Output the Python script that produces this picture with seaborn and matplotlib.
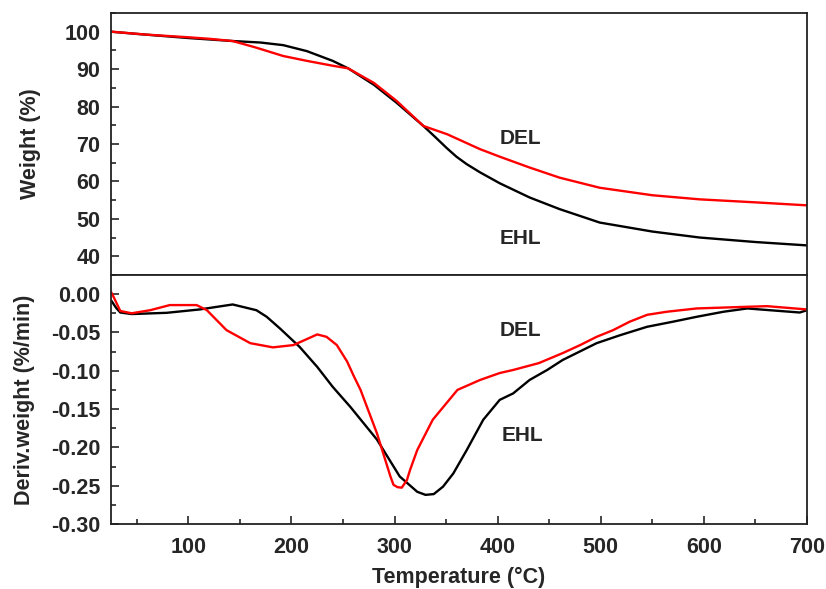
import matplotlib
matplotlib.use("Agg")
import matplotlib.pyplot as plt
import seaborn as sns
import pandas as pd
from matplotlib.ticker import AutoMinorLocator

# ---- data ----
ehl_w_T = [25, 50, 100, 143, 170, 192, 215, 240, 255, 280, 302, 328, 340, 351, 360, 370, 383, 402, 431, 460, 499, 550, 596, 650, 700]
ehl_w = [100, 99.4, 98.3, 97.5, 97.1, 96.4, 94.8, 92.2, 90.2, 85.8, 81.0, 74.8, 71.7, 68.8, 66.6, 64.6, 62.4, 59.5, 55.7, 52.6, 49.0, 46.6, 45.0, 43.8, 42.9]

del_w_T = [25, 60, 100, 120, 143, 165, 192, 215, 240, 255, 280, 302, 328, 351, 383, 402, 431, 460, 499, 550, 596, 650, 700]
del_w = [100, 99.2, 98.5, 98.1, 97.5, 95.8, 93.5, 92.2, 90.9, 90.2, 86.3, 81.5, 74.8, 72.6, 68.6, 66.6, 63.7, 61.0, 58.3, 56.3, 55.2, 54.4, 53.6]

ehl_d_T = [25, 30, 34, 45, 79, 111, 143, 166, 176, 189, 208, 225, 240, 257, 283, 305, 322, 330, 338, 347, 357, 370, 386, 402, 415, 431, 448, 463, 496, 519, 545, 570, 593, 619, 642, 664, 693, 700]
ehl_d = [-0.008, -0.018, -0.024, -0.026, -0.0244, -0.020, -0.0135, -0.021, -0.0296, -0.045, -0.069, -0.095, -0.121, -0.147, -0.190, -0.238, -0.258, -0.262, -0.261, -0.2513, -0.234, -0.2035, -0.164, -0.138, -0.1296, -0.112, -0.099, -0.086, -0.064, -0.0535, -0.0426, -0.036, -0.0296, -0.023, -0.0187, -0.021, -0.024, -0.021]

del_d_T = [25, 28, 34, 45, 63, 82, 108, 118, 137, 160, 182, 202, 225, 234, 244, 254, 260, 267, 283, 296, 299, 303, 307, 312, 315, 322, 337, 361, 383, 402, 415, 440, 463, 480, 496, 512, 528, 545, 564, 593, 661, 700]
del_d = [0.003, -0.005, -0.022, -0.025, -0.021, -0.0143, -0.0143, -0.021, -0.047, -0.064, -0.0695, -0.0665, -0.0526, -0.0557, -0.0665, -0.088, -0.1057, -0.125, -0.182, -0.238, -0.249, -0.252, -0.2526, -0.2426, -0.2296, -0.2035, -0.164, -0.125, -0.112, -0.103, -0.099, -0.090, -0.077, -0.0665, -0.0557, -0.047, -0.036, -0.027, -0.023, -0.0187, -0.0157, -0.020]

x_ticks = [100, 200, 300, 400, 500, 600, 700]
w_ticks = [40, 50, 60, 70, 80, 90, 100]
d_ticks = [0.00, -0.05, -0.10, -0.15, -0.20, -0.25, -0.30]

sns.set_style("ticks")
plt.rcParams['font.family'] = ['Liberation Sans', 'DejaVu Sans']
plt.rcParams['font.weight'] = 'bold'
plt.rcParams['axes.labelweight'] = 'bold'

fig = plt.figure(figsize=(8.26, 5.89), dpi=100)
gs = fig.add_gridspec(2, 1, height_ratios=[262, 249], hspace=0,
                      left=0.1344, right=0.977, top=0.978, bottom=0.1104)
ax1 = fig.add_subplot(gs[0])
ax2 = fig.add_subplot(gs[1], sharex=ax1)

dfw = pd.concat([
    pd.DataFrame({'T': ehl_w_T, 'v': ehl_w, 's': 'EHL'}),
    pd.DataFrame({'T': del_w_T, 'v': del_w, 's': 'DEL'}),
])
dfd = pd.concat([
    pd.DataFrame({'T': ehl_d_T, 'v': ehl_d, 's': 'EHL'}),
    pd.DataFrame({'T': del_d_T, 'v': del_d, 's': 'DEL'}),
])
pal = {'EHL': 'black', 'DEL': '#ff0000'}
sns.lineplot(data=dfw, x='T', y='v', hue='s', palette=pal, ax=ax1, legend=False,
             linewidth=1.7, sort=True, estimator=None)
sns.lineplot(data=dfd, x='T', y='v', hue='s', palette=pal, ax=ax2, legend=False,
             linewidth=1.7, sort=True, estimator=None)

ax1.set_xlim(25, 700)
ax1.set_ylim(35, 105)
ax2.set_ylim(-0.30, 0.025)

for ax in (ax1, ax2):
    for sp in ax.spines.values():
        sp.set_visible(True)
        sp.set_linewidth(1.3)
        sp.set_color('#222222')
    ax.tick_params(axis='both', direction='in', labelsize=15.5, width=1.2, length=6)
    ax.tick_params(axis='both', which='minor', direction='in', width=1.2, length=3.5)
    ax.tick_params(axis='y', pad=7.5)
ax2.tick_params(axis='x', pad=9.5)

ax1.set_yticks(w_ticks)
ax1.yaxis.set_minor_locator(AutoMinorLocator(2))
ax1.tick_params(axis='x', which='both', bottom=False, labelbottom=False)
ax2.set_xticks(x_ticks)
ax2.xaxis.set_minor_locator(AutoMinorLocator(2))
ax2.set_yticks(d_ticks)
ax2.set_yticklabels([f"{t:.2f}" for t in d_ticks])
ax2.yaxis.set_minor_locator(AutoMinorLocator(2))

for lab in ax1.get_yticklabels() + ax2.get_yticklabels() + ax2.get_xticklabels():
    lab.set_fontweight('bold')

ax1.set_xlabel('')
ax1.set_ylabel('Weight (%)', fontsize=15.5, fontweight='bold', labelpad=17)
ax2.set_ylabel('Deriv.weight (%/min)', fontsize=15.5, fontweight='bold', labelpad=11.5)
ax2.set_xlabel('Temperature (°C)', fontsize=15.5, fontweight='bold', labelpad=6.5)

ax1.text(422, 71.5, 'DEL', fontsize=15, fontweight='bold', ha='center', va='center')
ax1.text(422, 44.8, 'EHL', fontsize=15, fontweight='bold', ha='center', va='center')
ax2.text(422, -0.047, 'DEL', fontsize=15, fontweight='bold', ha='center', va='center')
ax2.text(424, -0.184, 'EHL', fontsize=15, fontweight='bold', ha='center', va='center')

fig.savefig('out.png', dpi=100)
